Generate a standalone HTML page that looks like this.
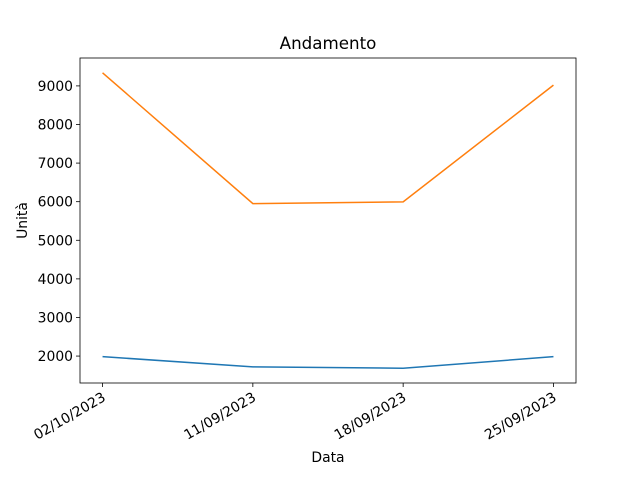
<!DOCTYPE html>
<html><head><meta charset="utf-8"><style>
html,body{margin:0;padding:0;background:#fff;}
svg text{font-family:"DejaVu Sans","Liberation Sans",sans-serif;}
</style></head><body>
<svg id="chart" width="640" height="480" viewBox="0 0 640 480">
<rect width="640" height="480" fill="#fff"/>
<g id="plot"></g>
</svg>
<script>
const categories = ["02/10/2023","11/09/2023","18/09/2023","25/09/2023"];
const seriesBlue = [1985, 1720, 1685, 1985];
const seriesOrange = [9340, 5950, 5995, 9020];
const yTicks = [2000,3000,4000,5000,6000,7000,8000,9000];

const L=80,R=576,T=58,B=383;
const all=seriesBlue.concat(seriesOrange);
const mn=Math.min(...all), mx=Math.max(...all), m=(mx-mn)*0.05;
const y0=mn-m, y1=mx+m;
const n=categories.length, xm=(n-1)*0.05;
const xs=i=>L+(i+xm)/((n-1)+2*xm)*(R-L);
const ys=v=>B-(v-y0)/(y1-y0)*(B-T);
const NS="http://www.w3.org/2000/svg";
const g=document.getElementById('plot');
function mk(tag,attrs,parent){const e=document.createElementNS(NS,tag);for(const k in attrs)e.setAttribute(k,attrs[k]);(parent||g).appendChild(e);return e;}

const title=mk('text',{x:(L+R)/2,y:49,'text-anchor':'middle','font-size':'16.7'});


title.textContent='Andamento';

yTicks.forEach(v=>{
  const y=ys(v);
  const t=mk('line',{x1:L-4,x2:L,y1:y,y2:y,stroke:'#000','stroke-width':'0.8'});
  
  
  const l=mk('text',{x:L-7,y:y+5,'text-anchor':'end','font-size':'13.9'});
  
  
  l.textContent=v;
});
categories.forEach((c,i)=>{
  const x=xs(i);
  const t=mk('line',{x1:x,x2:x,y1:B,y2:B+4,stroke:'#000','stroke-width':'0.8'});
  
  
  const ax=x+4, ay=B+17;
  const l=mk('text',{x:ax,y:ay,'text-anchor':'end','font-size':'13.9',transform:`rotate(-30 ${ax} ${ay})`});
  
  
  l.textContent=c;
});
function line(data,color,name){
  const p=mk('polyline',{points:data.map((v,i)=>xs(i)+','+ys(v)).join(' '),fill:'none',stroke:color,'stroke-width':'1.5'});
  
  
}
line(seriesBlue,'#1f77b4','series-blue-line');
line(seriesOrange,'#ff7f0e','series-orange-line');

const fr=mk('rect',{x:L,y:T,width:R-L,height:B-T,fill:'none',stroke:'#000','stroke-width':'0.8'});



const xl=mk('text',{x:(L+R)/2,y:462,'text-anchor':'middle','font-size':'13.9'});


xl.textContent='Data';
const yl=mk('text',{x:27,y:(T+B)/2,'text-anchor':'middle','font-size':'13.9',transform:`rotate(-90 27 ${(T+B)/2})`});


yl.textContent='Unità';
</script>
</body></html>
